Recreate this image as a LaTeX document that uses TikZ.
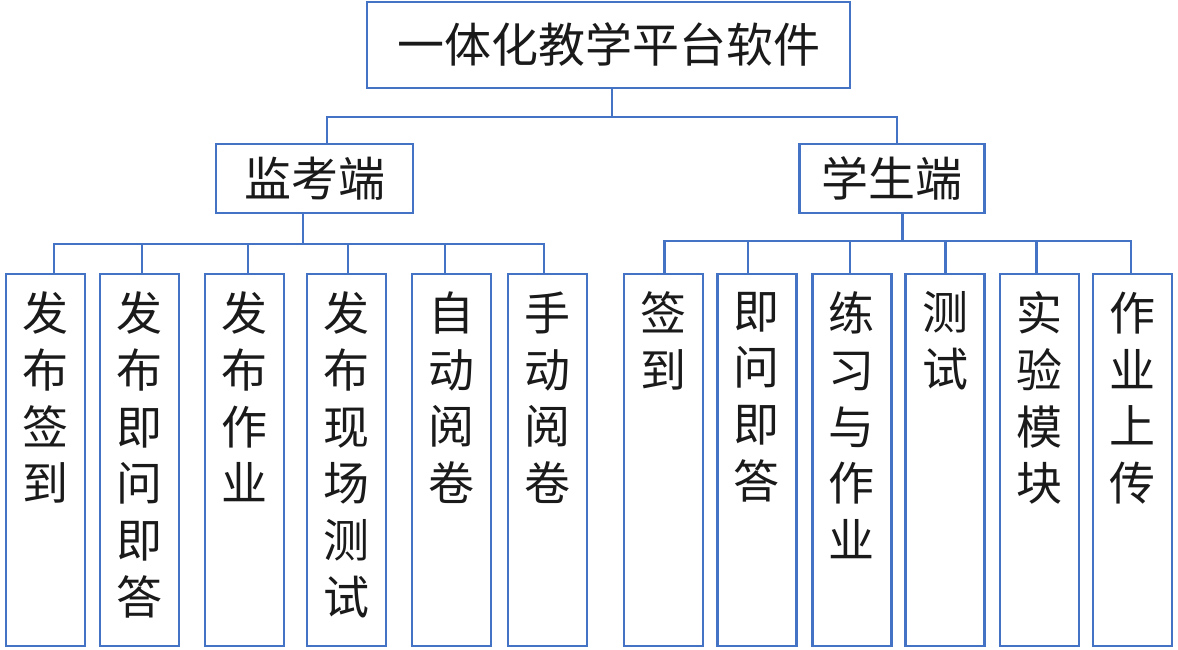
\documentclass[tikz,border=0pt]{standalone}
\usepackage{fontspec}
\setmainfont{Noto Sans CJK SC}
\definecolor{lineblue}{HTML}{4472C4}
\definecolor{txt}{HTML}{1A1A1A}
\tikzset{
  boxstyle/.style={draw=lineblue, line width=2.2pt, fill=white, inner sep=0pt},
  bigtext/.style={text=txt, font=\fontsize{47}{56}\selectfont},
  childbox/.style={boxstyle, minimum width=79pt, minimum height=372.5pt},
  childtext/.style={text=txt, inner sep=0pt, anchor=north, align=center, font=\fontsize{46}{56.7}\selectfont},
  conn/.style={draw=lineblue, line width=2.2pt},
}
\begin{document}
\begin{tikzpicture}[x=1pt,y=-1pt]
\useasboundingbox (0,0) rectangle (1178,650);
% top
\node[boxstyle, bigtext, minimum width=483pt, minimum height=86pt] (top) at (608.5,45) {一体化教学平台软件};
\node[boxstyle, bigtext, minimum width=197pt, minimum height=69pt] (jk) at (314.5,178.5) {监考端};
\node[boxstyle, bigtext, minimum width=185pt, minimum height=69pt] (xs) at (892,178.5) {学生端};
% children left
\node[childbox] (a1) at (45.3,460) {};
\node[childbox] (a2) at (139.3,460) {};
\node[childbox] (a3) at (244.5,460) {};
\node[childbox] (a4) at (346.5,460) {};
\node[childbox] (a5) at (451.3,460) {};
\node[childbox] (a6) at (547.4,460) {};
% children right
\node[childbox] (b1) at (663.4,460) {};
\node[childbox] (b2) at (756.9,460) {};
\node[childbox] (b3) at (851.9,460) {};
\node[childbox] (b4) at (945,460) {};
\node[childbox] (b5) at (1039.3,460) {};
\node[childbox] (b6) at (1132.4,460) {};
% texts
\node[childtext] (a1t) at ([yshift=-19pt]a1.north) {发\\布\\签\\到};
\node[childtext] (a2t) at ([yshift=-19pt]a2.north) {发\\布\\即\\问\\即\\答};
\node[childtext] (a3t) at ([yshift=-19pt]a3.north) {发\\布\\作\\业};
\node[childtext] (a4t) at ([yshift=-19pt]a4.north) {发\\布\\现\\场\\测\\试};
\node[childtext] (a5t) at ([yshift=-19pt]a5.north) {自\\动\\阅\\卷};
\node[childtext] (a6t) at ([yshift=-19pt]a6.north) {手\\动\\阅\\卷};
\node[childtext] (b1t) at ([yshift=-19pt]b1.north) {签\\到};
\node[childtext] (b2t) at ([yshift=-19pt]b2.north) {即\\问\\即\\答};
\node[childtext] (b3t) at ([yshift=-19pt]b3.north) {练\\习\\与\\作\\业};
\node[childtext] (b4t) at ([yshift=-19pt]b4.north) {测\\试};
\node[childtext] (b5t) at ([yshift=-19pt]b5.north) {实\\验\\模\\块};
\node[childtext] (b6t) at ([yshift=-19pt]b6.north) {作\\业\\上\\传};
% connectors top
\draw[conn] ([xshift=3.5pt]top.south) -- ++(0,28) coordinate (t1);
\draw[conn] (t1) -| ([xshift=12.5pt]jk.north);
\draw[conn] (t1) -| ([xshift=5pt]xs.north);
% left bus
\draw[conn] ([xshift=-11.5pt]jk.south) -- ++(0,30) coordinate (bl);
\draw[conn] (bl) -| ([xshift=8.3pt]a1.north);
\draw[conn] (bl) -| ([xshift=2.3pt]a2.north);
\draw[conn] (bl) -| ([xshift=3.5pt]a3.north);
\draw[conn] (bl) -| ([xshift=1.8pt]a4.north);
\draw[conn] (bl) -| ([xshift=-6.3pt]a5.north);
\draw[conn] (bl) -| ([xshift=-3.2pt]a6.north);
% right bus
\draw[conn] ([xshift=10.5pt]xs.south) -- ++(0,27) coordinate (br);
\draw[conn] (br) -| ([xshift=1.1pt]b1.north);
\draw[conn] (br) -| ([xshift=-8.6pt]b2.north);
\draw[conn] (br) -| ([xshift=-1.9pt]b3.north);
\draw[conn] (br) -| ([xshift=0.4pt]b4.north);
\draw[conn] (br) -| ([xshift=-2.8pt]b5.north);
\draw[conn] (br) -| ([xshift=-1.8pt]b6.north);
\end{tikzpicture}
\end{document}
